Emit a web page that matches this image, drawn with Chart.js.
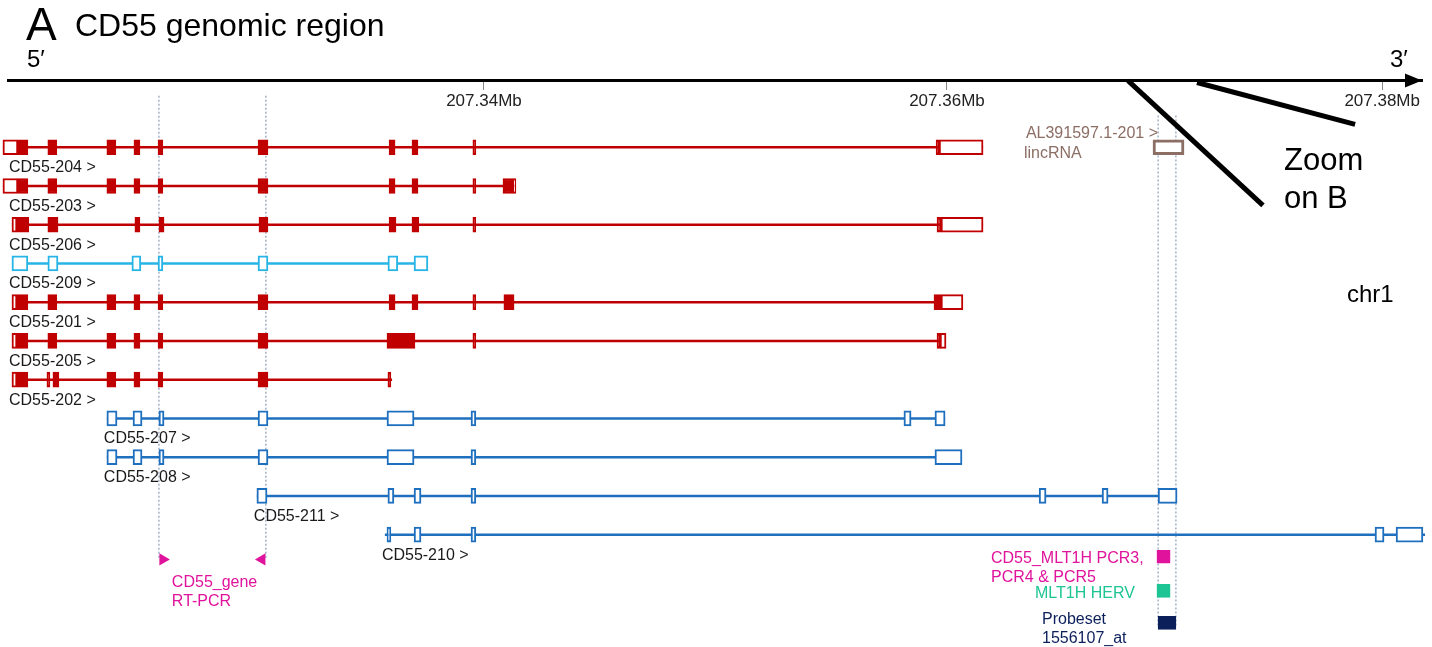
<!DOCTYPE html>
<html>
<head>
<meta charset="utf-8">
<title>CD55 genomic region</title>
<script src="https://cdn.jsdelivr.net/npm/chart.js@4.4.1/dist/chart.umd.min.js"></script>
<style>
  body { margin: 0; background: #fff; }
  canvas { display: block; }
</style>
</head>
<body>
<canvas id="cd55_chart" width="1432" height="647"></canvas>
<script>
// axis ticks (Mb)
const tickValues = [207.34, 207.36, 207.3788];
const tickLabels = ['207.34Mb', '207.36Mb', '207.38Mb'];

// transcripts, one row each
const trackNames = ['CD55-204', 'CD55-203', 'CD55-206', 'CD55-209', 'CD55-201', 'CD55-205',
                    'CD55-202', 'CD55-207', 'CD55-208', 'CD55-211', 'CD55-210'];
const trackBiotype = ['protein_coding', 'protein_coding', 'protein_coding', 'retained_intron',
                      'protein_coding', 'protein_coding', 'protein_coding', 'processed_transcript',
                      'processed_transcript', 'processed_transcript', 'processed_transcript'];
const trackStart = [207.31922, 207.31922, 207.31961, 207.31961, 207.31961, 207.31961,
                    207.31961, 207.32371, 207.32371, 207.33019, 207.33572];
const trackEnd = [207.36156, 207.34138, 207.36156, 207.33758, 207.36069, 207.35996,
                  207.33603, 207.35992, 207.36065, 207.36994, 207.38065];

// coding exons (filled), per transcript
const codingExons = [
  [[207.31987, 207.32030], [207.32116, 207.32155], [207.32371, 207.32410], [207.32488, 207.32514], [207.32592, 207.32613],
   [207.33024, 207.33067], [207.33590, 207.33616], [207.33689, 207.33715], [207.33952, 207.33965], [207.35953, 207.35966]],
  [[207.31987, 207.32030], [207.32116, 207.32155], [207.32371, 207.32410], [207.32488, 207.32514], [207.32592, 207.32613],
   [207.33024, 207.33067], [207.33590, 207.33616], [207.33689, 207.33715], [207.33952, 207.33965], [207.34082, 207.34125]],
  [[207.31983, 207.32034], [207.32116, 207.32160], [207.32492, 207.32514], [207.32596, 207.32618], [207.33028, 207.33067],
   [207.33590, 207.33620], [207.33689, 207.33719], [207.33952, 207.33965], [207.35957, 207.35974]],
  [],
  [[207.31983, 207.32030], [207.32116, 207.32155], [207.32371, 207.32410], [207.32488, 207.32514], [207.32592, 207.32613],
   [207.33024, 207.33067], [207.33590, 207.33616], [207.33689, 207.33715], [207.33952, 207.33965], [207.34086, 207.34130],
   [207.35944, 207.35974]],
  [[207.31983, 207.32030], [207.32116, 207.32155], [207.32371, 207.32410], [207.32488, 207.32514], [207.32592, 207.32613],
   [207.33024, 207.33067], [207.33581, 207.33702], [207.33952, 207.33965], [207.35957, 207.35970]],
  [[207.31983, 207.32030], [207.32112, 207.32125], [207.32138, 207.32164], [207.32371, 207.32410], [207.32488, 207.32514],
   [207.32592, 207.32613], [207.33024, 207.33067], [207.33585, 207.33598]],
  [], [], [], []
];

// untranslated exon parts (open boxes) of the coding transcripts
const utrExons = [
  [[207.31922, 207.31987], [207.35966, 207.36156]],
  [[207.31922, 207.31987], [207.34125, 207.34138]],
  [[207.31961, 207.31983], [207.35974, 207.36156]],
  [],
  [[207.31961, 207.31983], [207.35974, 207.36069]],
  [[207.31961, 207.31983], [207.35970, 207.35996]],
  [[207.31961, 207.31983]],
  [], [], [], []
];

// exons of the non coding transcripts (open boxes)
const noncodingExons = [
  [], [], [],
  [[207.31961, 207.32030], [207.32116, 207.32160], [207.32479, 207.32518], [207.32592, 207.32613],
   [207.33024, 207.33067], [207.33585, 207.33628], [207.33698, 207.33758]],
  [], [], [],
  [[207.32371, 207.32415], [207.32484, 207.32523], [207.32596, 207.32618], [207.33024, 207.33067],
   [207.33581, 207.33698], [207.33944, 207.33965], [207.35814, 207.35845], [207.35948, 207.35992]],
  [[207.32371, 207.32415], [207.32484, 207.32523], [207.32596, 207.32618], [207.33024, 207.33067],
   [207.33581, 207.33698], [207.33944, 207.33965], [207.35948, 207.36065]],
  [[207.33019, 207.33063], [207.33585, 207.33611], [207.33698, 207.33728], [207.33944, 207.33965],
   [207.36398, 207.36428], [207.36670, 207.36696], [207.36912, 207.36994]],
  [[207.33581, 207.33598], [207.33698, 207.33728], [207.33944, 207.33965], [207.37849, 207.37888],
   [207.37940, 207.38056]]
];

// lincRNA on the first row
const lincName = 'AL391597.1-201';
const lincExon = [207.36890, 207.37024];

// PCR / HERV / probeset features under the genes
const featureNames = [['CD55_MLT1H PCR3,', 'PCR4 & PCR5'], ['MLT1H HERV'], ['Probeset', '1556107_at']];
const featureStart = [207.36907, 207.36907, 207.36912];
const featureEnd = [207.36964, 207.36964, 207.36989];
const featureRow = [10.57, 11.45, 12.28];

// RT-PCR primers (forward, reverse)
const primerPos = [207.32613, 207.33041];
const primerRow = 10.64;

// dotted guide lines
const guideX = [207.32596, 207.33058, 207.36912, 207.36989];
const guideTop = [-1.33, -1.33, -0.82, -0.82];
const guideBottom = [10.6, 10.6, 12.4, 12.4];

// "Zoom on B" lines
const zoomLineA = [{x: 207.36782, y: -1.72}, {x: 207.37365, y: 1.5}];
const zoomLineB = [{x: 207.37080, y: -1.67}, {x: 207.37763, y: -0.59}];

const axisRow = -1.72;
const font = '"Liberation Sans", Arial, sans-serif';

const colours = {
  protein_coding: '#c00000',
  retained_intron: '#27b4e6',
  processed_transcript: '#1f6fbf',
  linc: '#8c6e64',
  pcr: '#e0139c',
  herv: '#1cc593',
  probe: '#0b1f5a',
  guide: '#7489ab'
};
const featureColours = [colours.pcr, colours.herv, colours.probe];

// bygger datasets
function exon_points(list)
{
    let out = [];
    list.forEach((exons, row) => {
        exons.forEach(e => out.push({x: e, y: row}));
    });
    return out;
}

let datasets = [];

// introns
trackNames.forEach((name, i) => {
    datasets.push({
        type: 'line', order: 10, clip: false,
        data: [{x: trackStart[i], y: i}, {x: trackEnd[i], y: i}],
        borderColor: colours[trackBiotype[i]], borderWidth: 2.5, pointRadius: 0
    });
});

// dotted guides
guideX.forEach((gx, i) => {
    datasets.push({
        type: 'line', order: 20, clip: false,
        data: [{x: gx, y: guideTop[i]}, {x: gx, y: guideBottom[i]}],
        borderColor: colours.guide, borderWidth: 1, borderDash: [2, 2], pointRadius: 0
    });
});

const barBase = {
    type: 'bar', indexAxis: 'y', order: 0, clip: false, grouped: false,
    barThickness: 15, borderWidth: 2, borderSkipped: false
};

datasets.push(Object.assign({}, barBase, {
    data: exon_points(utrExons),
    backgroundColor: '#fff', borderColor: colours.protein_coding
}));
datasets.push(Object.assign({}, barBase, {
    data: exon_points(codingExons),
    backgroundColor: colours.protein_coding, borderColor: colours.protein_coding
}));
let ncPoints = exon_points(noncodingExons);
datasets.push(Object.assign({}, barBase, {
    data: ncPoints,
    backgroundColor: '#fff',
    borderColor: ncPoints.map(p => colours[trackBiotype[p.y]])
}));
datasets.push(Object.assign({}, barBase, {
    data: [{x: lincExon, y: 0}],
    backgroundColor: '#fff', borderColor: colours.linc, borderWidth: 3
}));
datasets.push(Object.assign({}, barBase, {
    data: featureStart.map((s, i) => ({x: [s, featureEnd[i]], y: featureRow[i]})),
    backgroundColor: featureColours, borderColor: featureColours, barThickness: 13
}));

// primers
datasets.push({
    type: 'scatter', order: 0, clip: false,
    data: primerPos.map(p => ({x: p, y: primerRow})),
    pointStyle: 'triangle', pointRadius: 7, pointRotation: [90, -90],
    backgroundColor: colours.pcr, borderWidth: 0
});

// zoom lines
[zoomLineA, zoomLineB].forEach(l => {
    datasets.push({
        type: 'line', order: 0, clip: false, data: l,
        borderColor: '#000', borderWidth: 5, pointRadius: 0, borderCapStyle: 'butt'
    });
});

// text och pil
const textPlugin = {
    id: 'texter',
    afterDraw(chart)
    {
        const ctx = chart.ctx;
        const xs = chart.scales.x;
        const ys = chart.scales.y;
        ctx.save();
        ctx.textBaseline = 'alphabetic';
        ctx.textAlign = 'left';
        ctx.fillStyle = '#000';
        ctx.font = '46px ' + font;
        ctx.fillText('A', 26, 40);
        ctx.font = '32px ' + font;
        ctx.fillText('CD55 genomic region', 75, 36);
        ctx.font = '24px ' + font;
        ctx.fillText('5\u2032', 27, 67);
        ctx.fillText('3\u2032', 1390, 67);

        // arrow head
        const ay = ys.getPixelForValue(axisRow);
        const ax = chart.chartArea.right;
        ctx.beginPath();
        ctx.moveTo(ax, ay);
        ctx.lineTo(ax - 17, ay - 7);
        ctx.lineTo(ax - 17, ay + 7);
        ctx.closePath();
        ctx.fill();

        // transcript names
        ctx.font = '16px ' + font;
        ctx.fillStyle = '#1a1a1a';
        trackNames.forEach((n, i) => {
            let lx = Math.max(9, xs.getPixelForValue(trackStart[i]) - 3);
            ctx.fillText(n + ' >', lx, ys.getPixelForValue(i) + 25);
        });

        // lincRNA
        ctx.fillStyle = colours.linc;
        const lx0 = xs.getPixelForValue(lincExon[0]);
        ctx.textAlign = 'right';
        ctx.fillText(lincName + ' >', lx0 + 5, 138);
        ctx.textAlign = 'left';
        ctx.fillText('lincRNA', lx0 - 129, 158);

        // primers
        ctx.fillStyle = colours.pcr;
        const px0 = xs.getPixelForValue(primerPos[0]);
        ctx.fillText('CD55_gene', px0 + 9, 587);
        ctx.fillText('RT-PCR', px0 + 9, 606);

        // features
        const fx = [991, 1035, 1042];
        const fy = [563, 598, 624];
        featureNames.forEach((lines, i) => {
            ctx.fillStyle = featureColours[i];
            lines.forEach((t, k) => ctx.fillText(t, fx[i], fy[i] + k * 19));
        });

        ctx.fillStyle = '#000';
        ctx.font = '31px ' + font;
        ctx.fillText('Zoom', 1284, 170);
        ctx.fillText('on B', 1284, 208);
        ctx.font = '24px ' + font;
        ctx.fillText('chr1', 1347, 302);
        ctx.restore();
    }
};

new Chart(document.getElementById('cd55_chart'), {
    type: 'bar',
    data: {datasets: datasets},
    options: {
        responsive: false,
        animation: false,
        layout: {padding: {left: 8, right: 10, top: 0, bottom: 0}},
        plugins: {legend: {display: false}, tooltip: {enabled: false}},
        scales: {
            x: {
                type: 'linear',
                min: 207.31944,
                max: 207.38052,
                offset: false,
                position: {y: axisRow},
                afterFit: s => { s.height = 0; },
                afterBuildTicks: s => { s.ticks = tickValues.map(v => ({value: v})); },
                ticks: {
                    autoSkip: false, maxRotation: 0, padding: 3,
                    color: '#222', font: {size: 17, family: font},
                    callback: (v, i) => tickLabels[i]
                },
                grid: {display: true, offset: false, drawOnChartArea: false, drawTicks: true, tickLength: 8, tickColor: '#888', tickWidth: 1},
                border: {display: true, color: '#000', width: 3}
            },
            y: {
                type: 'linear',
                min: -3.62,
                max: 12.72,
                offset: false,
                reverse: true,
                display: false
            }
        }
    },
    plugins: [textPlugin]
});
</script>
</body>
</html>
